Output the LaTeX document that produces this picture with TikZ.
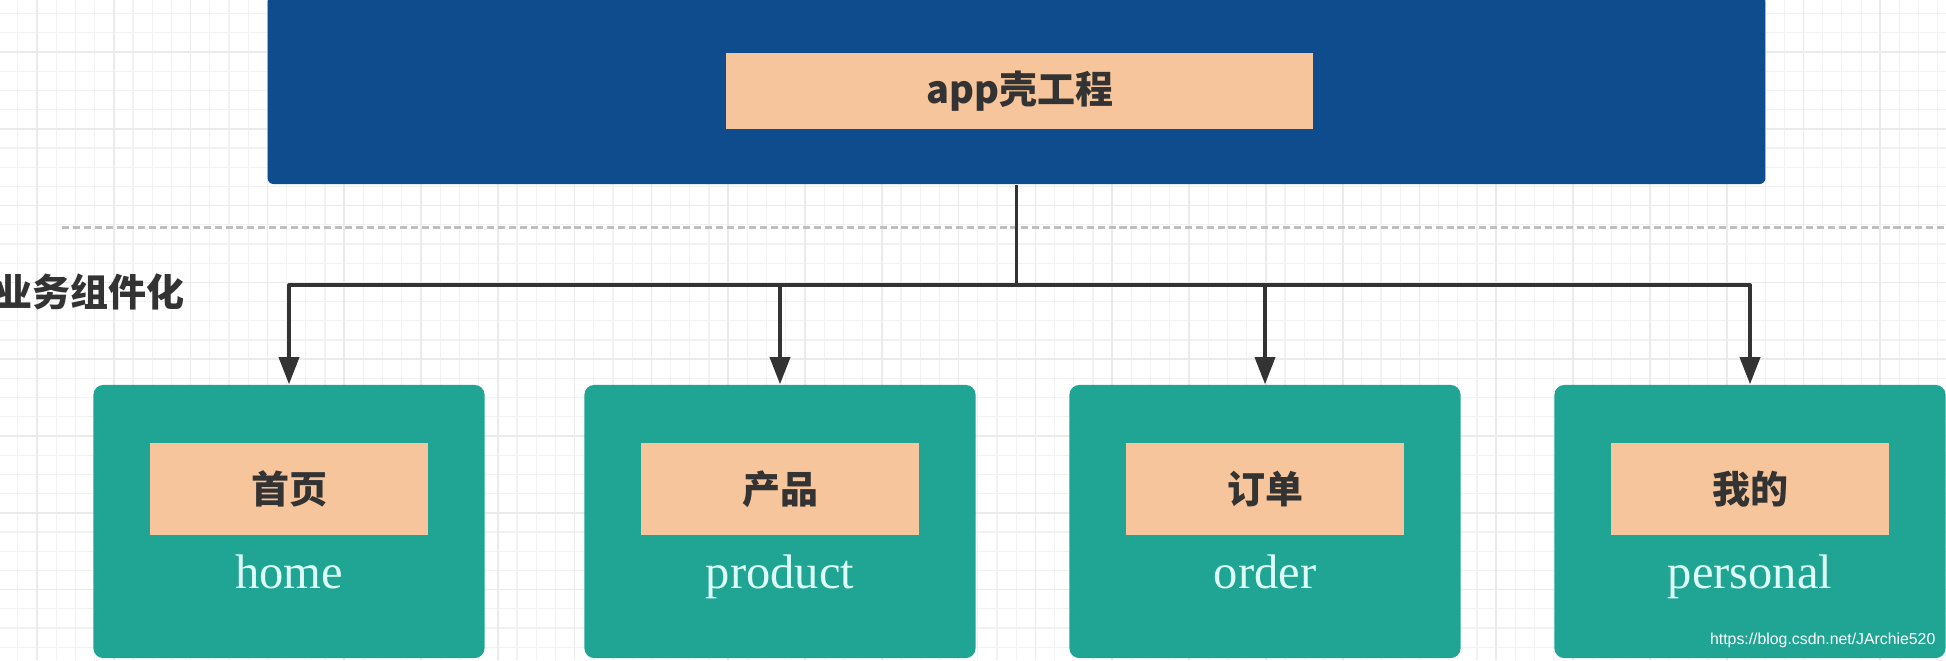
\documentclass[tikz,border=0pt]{standalone}
\usepackage{fontspec}
\setmainfont{Liberation Serif}
\newfontfamily\cjk{Noto Sans CJK SC}
\newfontfamily\urlfont{Liberation Sans}
\usetikzlibrary{arrows.meta}

\definecolor{shellblue}{HTML}{0E4C8E}
\definecolor{tagorange}{HTML}{F7C59B}
\definecolor{modteal}{HTML}{20A595}
\definecolor{inkgray}{HTML}{333333}
\definecolor{mintwhite}{HTML}{DDFFF6}

\begin{document}
\begin{tikzpicture}[
        x=0.01cm, y=-0.01cm,
        line join=round,
        shellbox/.style={fill=shellblue, rounded corners=0.06cm, inner sep=0pt,
            minimum width=14.97cm, minimum height=1.88cm},
        tagbox/.style={fill=tagorange, inner sep=0pt, text=inkgray,
            font=\cjk\bfseries\fontsize{10.8}{12}\selectfont},
        modbox/.style={fill=modteal, rounded corners=0.1cm, inner sep=0pt,
            minimum width=3.91cm, minimum height=2.73cm},
        enlabel/.style={text=mintwhite, inner sep=0pt, anchor=base,
            font=\fontsize{13.8}{16}\selectfont},
        link/.style={draw=inkgray, line width=1pt},
        minorgrid/.style={draw=black!5, line width=0.3pt},
        majorgrid/.style={draw=black!8, line width=0.5pt},
        sepline/.style={draw=black!25, line width=0.85pt, dash pattern=on 2pt off 1.1pt}
    ]
        \useasboundingbox (0,0) rectangle (1946,660);
        \fill[white] (0,0) rectangle (1946,660);

        % 背景网格
        \foreach \i in {0,...,102}
            \draw[minorgrid] ({-1.4+19.2*\i},0) -- ++(0,660);
        \foreach \j in {0,...,35}
            \draw[minorgrid] (0,{-5.6+19.2*\j}) -- ++(1946,0);
        \foreach \i in {0,...,25}
            \draw[majorgrid] ({37+76.8*\i},0) -- ++(0,660);
        \foreach \j in {0,...,8}
            \draw[majorgrid] (0,{52+76.8*\j}) -- ++(1946,0);

        % 壳工程
        \node[shellbox] (shell) at (1016.5,90) {};
        \node[tagbox, minimum width=5.87cm, minimum height=0.76cm] (shelltag)
            at (1019.5,91) {app壳工程};

        % 分隔线
        \draw[sepline] (62,227) -- (1946,227);
        \node[anchor=west, inner sep=0pt, text=inkgray,
            font=\cjk\bfseries\fontsize{10.8}{12}\selectfont] (layer) at (-6,292) {业务组件化};

        % 业务组件
        \foreach \mx/\mname/\cn in {289/home/首页, 780/product/产品,
                1265/order/订单, 1750/personal/我的} {
            \node[modbox] (mod-\mname) at (\mx,521.5) {};
            \node[tagbox, minimum width=2.77cm, minimum height=0.92cm] (tag-\mname)
                at (\mx,489) {\cn};
            \node[enlabel] (en-\mname) at (\mx,588) {\mname};
        }

        % 连线
        \draw[link] (shell.south) -- ++(0,100) coordinate (bus);
        \foreach \mname in {home,product,order,personal}
            \draw[link, -{Triangle[width=0.2cm,length=0.27cm]}] (bus) -| (mod-\mname.north);

        \node[anchor=east, inner sep=0pt, text=white,
            font=\urlfont\fontsize{4.5}{5}\selectfont] (mark) at (1936,640)
            {https://blog.csdn.net/JArchie520};
    \end{tikzpicture}
\end{document}
